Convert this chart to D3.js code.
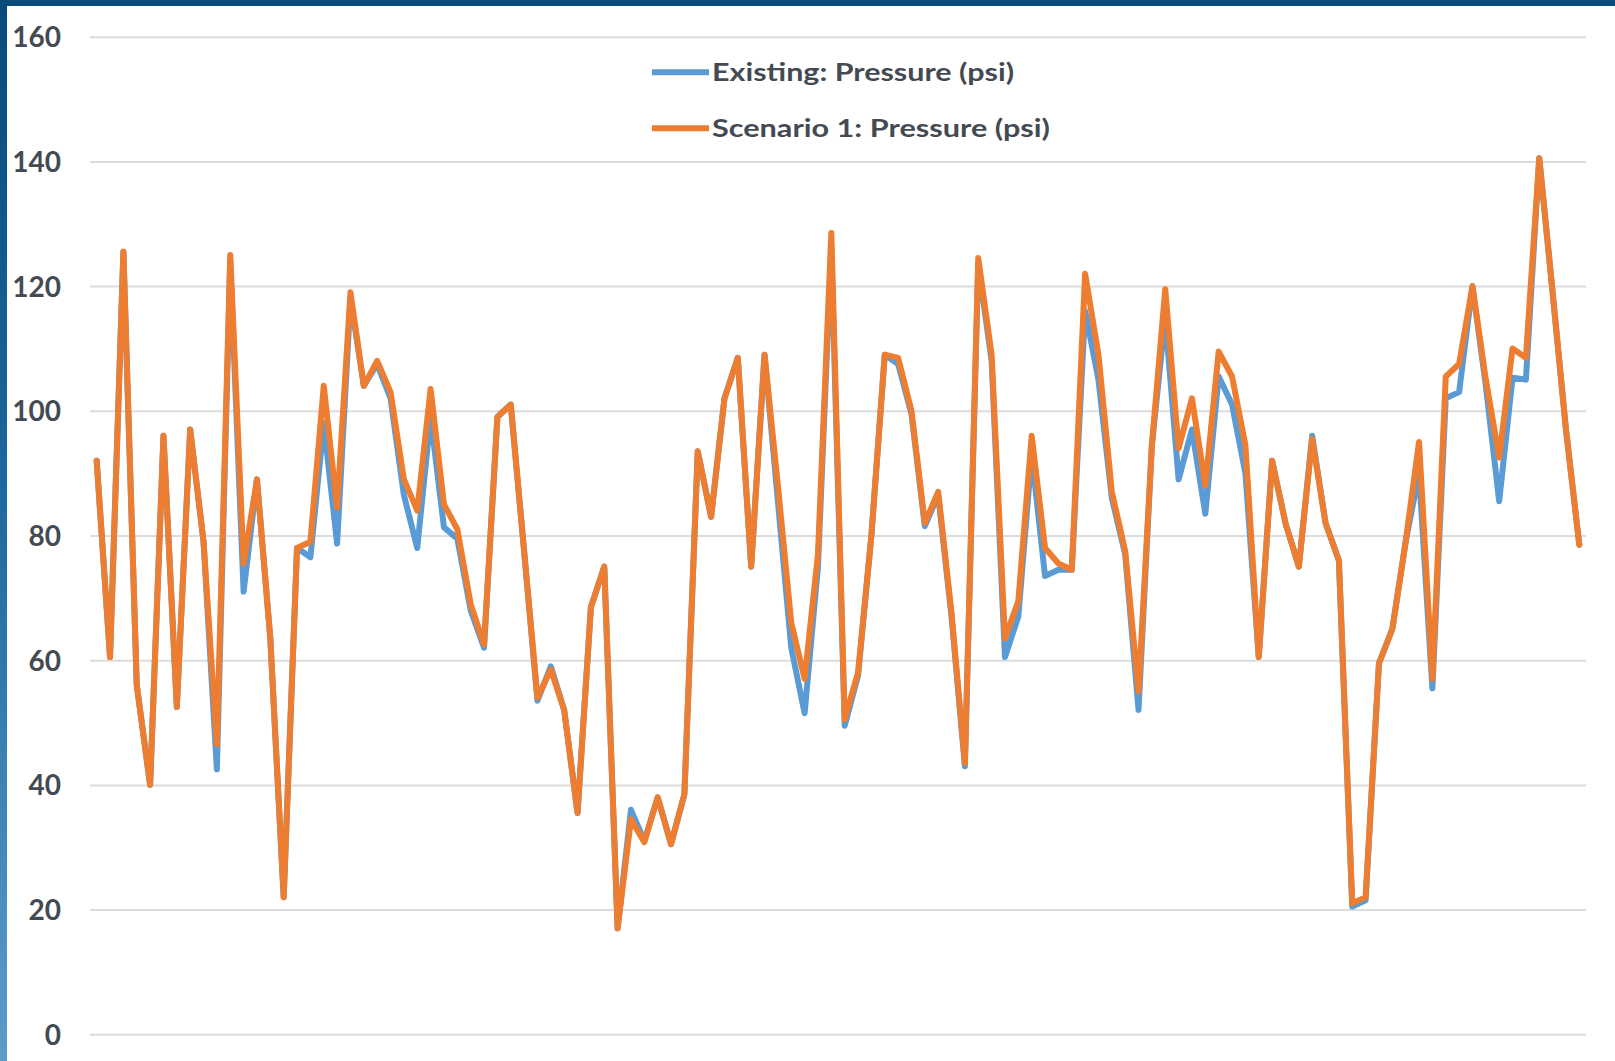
<!DOCTYPE html>
<html>
<head>
<meta charset="utf-8">
<script src="https://cdn.jsdelivr.net/npm/d3@7"></script>
<style>
  html, body { margin: 0; padding: 0; background: #ffffff; overflow: hidden; }
  svg { display: block; }
</style>
</head>
<body>
<svg id="chart" width="1615" height="1061"></svg>
<script>
// Pressure at each node, two model runs
const seriesNames = ["Existing: Pressure (psi)", "Scenario 1: Pressure (psi)"];

const existing = [
  92, 60.5, 125.5, 56, 40, 96, 52.5, 97, 79, 42.5,
  124, 71, 89, 63.5, 22, 78, 76.5, 98, 78.7, 118,
  104, 107.5, 102, 86.5, 78, 99, 81.3, 79.5, 68, 62,
  99, 101, 77.5, 53.5, 59, 52, 35.5, 68.5, 75, 17,
  36, 31, 38, 30.5, 38.5, 93.5, 83, 102, 108.5, 75,
  109, 85.5, 62, 51.5, 75, 126, 49.5, 57.5, 80, 109,
  107.5, 99.5, 81.5, 86.5, 67, 43, 123.5, 108, 60.5, 67,
  93, 73.5, 74.5, 74.5, 116, 105, 86, 77, 52, 94.5,
  115, 89, 97, 83.5, 105.5, 101, 90, 60.5, 92, 82,
  75, 96, 82, 76, 20.5, 21.5, 59.5, 65, 79, 90,
  55.5, 102, 103, 120, 104, 85.5, 105.3, 105, 140.5, 119,
  97, 78.5
];

const scenario1 = [
  92, 60.5, 125.5, 56, 40, 96, 52.5, 97, 79, 46.5,
  125, 75.5, 89, 63.5, 22, 78, 79, 104, 84.5, 119,
  104, 108, 103, 89, 84, 103.5, 85, 81, 69, 62.5,
  99, 101, 77.5, 54, 58.5, 52, 35.5, 68.5, 75, 17,
  34.5, 30.8, 38, 30.5, 38.5, 93.5, 83, 102, 108.5, 75,
  109, 88, 66, 57, 77, 128.5, 50.5, 58, 80, 109,
  108.5, 100, 82, 87, 67.5, 43.5, 124.5, 109, 63.5, 69.5,
  96, 78, 75.5, 74.5, 122, 109, 87, 77.5, 55, 94.5,
  119.5, 94, 102, 88, 109.5, 105.5, 94.5, 60.5, 92, 82,
  75, 95.5, 82, 76, 21, 22, 59.5, 65, 79, 95,
  57, 105.5, 107.5, 120, 105, 92.5, 110, 108.5, 140.5, 119,
  97, 78.5
];

const categories = d3.range(1, existing.length + 1);
const yTickValues = [0, 20, 40, 60, 80, 100, 120, 140, 160];
const seriesColors = ["#5b9bd5", "#ed7d31"];

const svg = d3.select("#chart");
const W = 1615, H = 1061;
const plot = { left: 90, right: 1586, top: 36.7, bottom: 1034.3 };

// slide frame: dark top rule and shaded left edge
const defs = svg.append("defs");
const grad = defs.append("linearGradient")
  .attr("id", "edgeGrad").attr("x1", 0).attr("y1", 0).attr("x2", 0).attr("y2", 1);
grad.append("stop").attr("offset", "0%").attr("stop-color", "#094a7a");
grad.append("stop").attr("offset", "45%").attr("stop-color", "#1c679c");
grad.append("stop").attr("offset", "100%").attr("stop-color", "#5d9cc9");

svg.append("rect").attr("x", 0).attr("y", 0).attr("width", W).attr("height", H).attr("fill", "#ffffff");
svg.append("rect").attr("x", 0).attr("y", 0).attr("width", 7).attr("height", H).attr("fill", "url(#edgeGrad)");
svg.append("rect").attr("x", 0).attr("y", 0).attr("width", W).attr("height", 6).attr("fill", "#0a4b7b");

// scales
const x = d3.scalePoint()
  .domain(categories)
  .range([plot.left, plot.right])
  .padding(0.5);

const y = d3.scaleLinear()
  .domain([0, 160])
  .range([plot.bottom, plot.top]);

// value axis with full-width gridlines
const yAxis = d3.axisLeft(y)
  .tickValues(yTickValues)
  .tickFormat(d3.format("d"))
  .tickSize(-(plot.right - plot.left))
  .tickPadding(29);

const gy = svg.append("g")
  .attr("transform", `translate(${plot.left},0)`)
  .call(yAxis);

gy.select(".domain").remove();
gy.selectAll(".tick line")
  .attr("stroke", "#dcdcdc")
  .attr("stroke-width", 2);
gy.selectAll(".tick text")
  .attr("fill", "#444a52")
  .attr("font-family", "Lato, 'Open Sans', sans-serif")
  .attr("font-weight", 700)
  .attr("font-size", 28)
  .attr("dy", "0.36em");

// series lines
const line = d3.line()
  .x((d, i) => x(categories[i]))
  .y(d => y(d));

const series = [existing, scenario1];
svg.append("g")
  .selectAll("path")
  .data(series)
  .join("path")
  .attr("d", d => line(d))
  .attr("fill", "none")
  .attr("stroke", (d, i) => seriesColors[i])
  .attr("stroke-width", 6)
  .attr("stroke-linejoin", "round")
  .attr("stroke-linecap", "round");

// legend
const legendX = 652, legendY0 = 72.3, legendGap = 56;
const legendWidths = [302, 338];
const lg = svg.append("g");
seriesNames.forEach((name, i) => {
  const ly = legendY0 + i * legendGap;
  lg.append("line")
    .attr("x1", legendX).attr("x2", legendX + 57)
    .attr("y1", ly).attr("y2", ly)
    .attr("stroke", seriesColors[i])
    .attr("stroke-width", 6);
  lg.append("text")
    .attr("x", legendX + 60)
    .attr("y", ly + 8.5)
    .attr("fill", "#444a52")
    .attr("font-family", "Lato, 'Open Sans', sans-serif")
    .attr("font-weight", 700)
    .attr("font-size", 24)
    .attr("textLength", legendWidths[i])
    .attr("lengthAdjust", "spacingAndGlyphs")
    .text(name);
});
</script>
</body>
</html>
